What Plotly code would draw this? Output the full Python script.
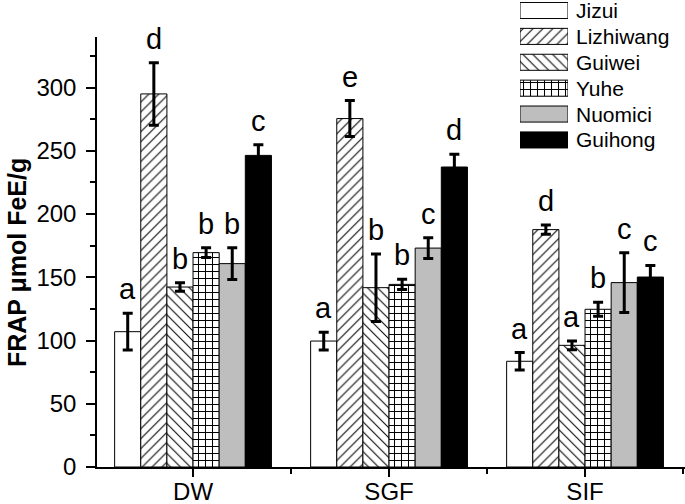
import plotly.graph_objects as go

categories = ["DW", "SGF", "SIF"]
cultivars = ["Jizui", "Lizhiwang", "Guiwei", "Yuhe", "Nuomici", "Guihong"]

jizui = [107, 99.6, 83.6]
lizhiwang = [295, 275.5, 187.7]
guiwei = [142.3, 141.8, 96.2]
yuhe = [169.5, 144.4, 124.7]
nuomici = [160.8, 173.1, 145.8]
guihong = [246.4, 237.2, 150.2]

jizui_err = [14.5, 7, 6.9]
lizhiwang_err = [24.7, 14.2, 3.6]
guiwei_err = [3.4, 26.7, 3.5]
yuhe_err = [3.8, 4, 5.5]
nuomici_err = [12.5, 8.2, 23.7]
guihong_err = [8.5, 10, 9.2]

jizui_sig = ["a", "a", "a"]
lizhiwang_sig = ["d", "e", "d"]
guiwei_sig = ["b", "b", "a"]
yuhe_sig = ["b", "b", "b"]
nuomici_sig = ["b", "c", "c"]
guihong_sig = ["c", "d", "c"]

y_ticks = [0, 50, 100, 150, 200, 250, 300]
y_minor = [25, 75, 125, 175, 225, 275, 325]
y_title = "<b>FRAP μmol FeE/g</b>"

values = [jizui, lizhiwang, guiwei, yuhe, nuomici, guihong]
errors = [jizui_err, lizhiwang_err, guiwei_err, yuhe_err, nuomici_err, guihong_err]
letters = [jizui_sig, lizhiwang_sig, guiwei_sig, yuhe_sig, nuomici_sig, guihong_sig]

colors = ["white", "white", "white", "white", "#bebebe", "black"]
shapes = ["", "/", "\\", "+", "", ""]
psizes = [7, 7, 7, 7, 7, 7]
psolid = [0.15, 0.15, 0.15, 0.27, 0.15, 0.15]

FONT = "Liberation Sans, Arial, sans-serif"


def marker_style(j):
    return dict(color=colors[j], line=dict(color="black", width=1),
                pattern=dict(shape=shapes[j], fgcolor="black", bgcolor="white",
                             fillmode="replace", size=psizes[j], solidity=psolid[j]))


fig = go.Figure()
xs = list(range(len(categories)))
for j, name in enumerate(cultivars):
    fig.add_trace(go.Bar(
        x=xs, y=values[j], name=name, marker=marker_style(j),
        error_y=dict(type="data", array=errors[j], visible=True, color="black",
                     thickness=3, width=5),
        showlegend=False,
    ))

# custom legend keys drawn as bars on a small inset axis
for j, name in enumerate(cultivars):
    fig.add_trace(go.Bar(
        x=[1], y=[j], orientation="h", width=0.62, offset=-0.31,
        xaxis="x2", yaxis="y2", marker=marker_style(j),
        showlegend=False, hoverinfo="skip", name=name,
    ))

annotations = []
ngroup = len(cultivars)
bw = 0.8 / ngroup
for j in range(ngroup):
    for i in xs:
        annotations.append(dict(
            x=i + (j - (ngroup - 1) / 2) * bw, y=values[j][i] + errors[j][i],
            xref="x", yref="y", text=letters[j][i], showarrow=False,
            yanchor="bottom", yshift=6, font=dict(size=29, color="black", family=FONT)))
for j, name in enumerate(cultivars):
    annotations.append(dict(
        x=0.8112, y=j, xref="paper", yref="y2", text=name, showarrow=False,
        xanchor="left", yanchor="middle", font=dict(size=21, color="black", family=FONT)))
# y-axis title
annotations.append(dict(
    x=-0.136, y=0.4387, xref="paper", yref="paper", text=y_title, textangle=-90,
    showarrow=False, xanchor="center", yanchor="middle",
    font=dict(size=25, color="black", family=FONT)))

fig.update_layout(
    width=685, height=504,
    margin=dict(l=97, r=0, t=2, b=37),
    paper_bgcolor="white", plot_bgcolor="white",
    barmode="group", bargap=0.2, bargroupgap=0,
    font=dict(family=FONT, color="black", size=24),
    xaxis=dict(range=[-0.49, 2.51], tickvals=xs, ticktext=categories,
               showline=True, linecolor="black", linewidth=1.5,
               ticks="outside", ticklen=8, tickwidth=1.5, tickcolor="black",
               minor=dict(tickvals=[0.5, 1.5, 2.5], ticks="outside", ticklen=5,
                          tickwidth=1.5, tickcolor="black"),
               showgrid=False, zeroline=False, tickfont=dict(size=24),
               ticklabelstandoff=-6, automargin=False),
    yaxis=dict(domain=[0, 430 / 465], range=[0, 340], tickvals=y_ticks,
               showline=True, linecolor="black", linewidth=1.5,
               ticks="outside", ticklen=9, tickwidth=1.5, tickcolor="black",
               minor=dict(tickvals=y_minor, ticks="outside",
                          ticklen=5, tickwidth=1.5, tickcolor="black"),
               showgrid=False, zeroline=False, tickfont=dict(size=24),
               ticklabelstandoff=5, automargin=False),
    xaxis2=dict(domain=[0.7194, 0.801], range=[0, 1], visible=False, anchor="y2"),
    yaxis2=dict(domain=[0.6755, 1], range=[5.5, -0.328], visible=False, anchor="x2"),
    annotations=annotations,
)

fig.write_html("out.html", config={"displayModeBar": False},
               post_script="document.body.style.margin='0px';")
